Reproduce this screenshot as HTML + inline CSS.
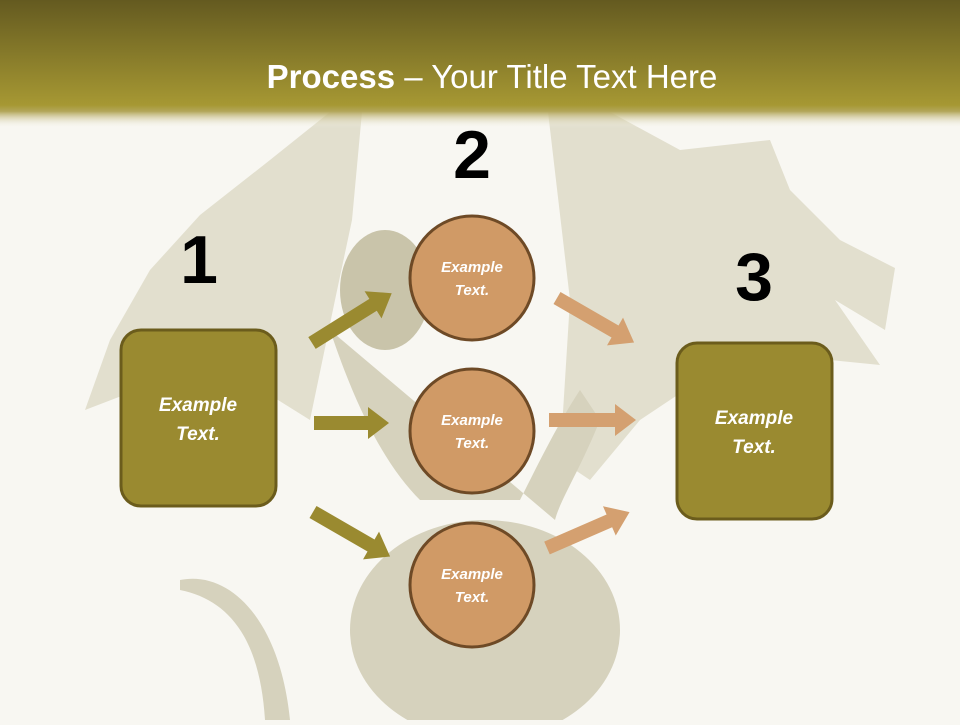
<!DOCTYPE html>
<html><head><meta charset="utf-8"><style>
html,body{margin:0;padding:0;}
body{width:960px;height:720px;overflow:hidden;background:#f8f7f2;font-family:"Liberation Sans",sans-serif;}
</style></head><body>
<svg width="960" height="720" viewBox="0 0 960 720" xmlns="http://www.w3.org/2000/svg">
<defs>
<linearGradient id="hd" x1="0" y1="0" x2="0" y2="1">
<stop offset="0" stop-color="#645a20"/>
<stop offset="0.82" stop-color="#a69833"/>
<stop offset="0.87" stop-color="#b3a65a"/>
<stop offset="1" stop-color="#f8f7f2" stop-opacity="0"/>
</linearGradient>
</defs>
<rect width="960" height="720" fill="#f8f7f2"/>
<!-- faint dragon -->
<g fill="#e2dfce">
<polygon points="85,410 110,340 150,270 200,215 270,160 330,112 362,112 352,220 335,300 310,420 270,395 220,370 150,385"/>
<polygon points="548,112 610,112 680,150 770,140 790,190 840,240 895,268 885,330 835,300 880,365 830,360 760,350 700,380 640,420 590,480 560,460 570,300"/>
</g>
<g fill="#d6d2bd">
<path d="M330,330 C360,420 390,470 420,500 L520,500 C540,460 560,420 580,390 L600,420 C580,470 560,500 555,520 Z"/>
<ellipse cx="485" cy="630" rx="135" ry="110"/>
<path d="M180,580 C230,570 280,620 290,720 L265,720 C260,640 230,600 180,590 Z"/>
</g>
<ellipse cx="385" cy="290" rx="45" ry="60" fill="#c9c4aa"/>
<rect width="960" height="128" fill="url(#hd)"/>
<text x="492" y="88" text-anchor="middle" font-size="33" fill="#fff" font-family="Liberation Sans, sans-serif"><tspan font-weight="bold">Process</tspan> – Your Title Text Here</text>
<!-- numbers -->
<g font-family="Liberation Sans, sans-serif" font-weight="bold" font-size="68" text-anchor="middle" fill="#000">
<text x="199" y="283">1</text>
<text x="472" y="178">2</text>
<text x="754" y="300">3</text>
</g>
<!-- boxes -->
<rect x="121" y="330" width="155" height="176" rx="20" fill="#9a8a30" stroke="#6b5c1c" stroke-width="3"/>
<rect x="677" y="343" width="155" height="176" rx="20" fill="#9a8a30" stroke="#6b5c1c" stroke-width="3"/>
<!-- arrows olive -->
<g fill="#9a8a30">
<polygon transform="translate(312,343) rotate(-32)" points="0,-7 72,-7 72,-16 94,0 72,16 72,7 0,7"/>
<polygon transform="translate(314,423)" points="0,-7 54,-7 54,-16 75,0 54,16 54,7 0,7"/>
<polygon transform="translate(313,512) rotate(30)" points="0,-7 67,-7 67,-16 89,0 67,16 67,7 0,7"/>
</g>
<g fill="#d4a070">
<polygon transform="translate(557,298) rotate(30)" points="0,-7 67,-7 67,-16 89,0 67,16 67,7 0,7"/>
<polygon transform="translate(549,420)" points="0,-7 66,-7 66,-16 87,0 66,16 66,7 0,7"/>
<polygon transform="translate(547,548) rotate(-23.5)" points="0,-7 68,-7 68,-16 90,0 68,16 68,7 0,7"/>
</g>
<!-- circles -->
<g fill="#d09a66" stroke="#6e4a26" stroke-width="3">
<circle cx="472" cy="278" r="62"/>
<circle cx="472" cy="431" r="62"/>
<circle cx="472" cy="585" r="62"/>
</g>
<g font-family="Liberation Sans, sans-serif" font-weight="bold" font-style="italic" fill="#fff" text-anchor="middle">
<g font-size="15">
<text x="472" y="272">Example</text><text x="472" y="295">Text.</text>
<text x="472" y="425">Example</text><text x="472" y="448">Text.</text>
<text x="472" y="579">Example</text><text x="472" y="602">Text.</text>
</g>
<g font-size="19">
<text x="198" y="411">Example</text><text x="198" y="440">Text.</text>
<text x="754" y="424">Example</text><text x="754" y="453">Text.</text>
</g>
</g>
</svg>
</body></html>
